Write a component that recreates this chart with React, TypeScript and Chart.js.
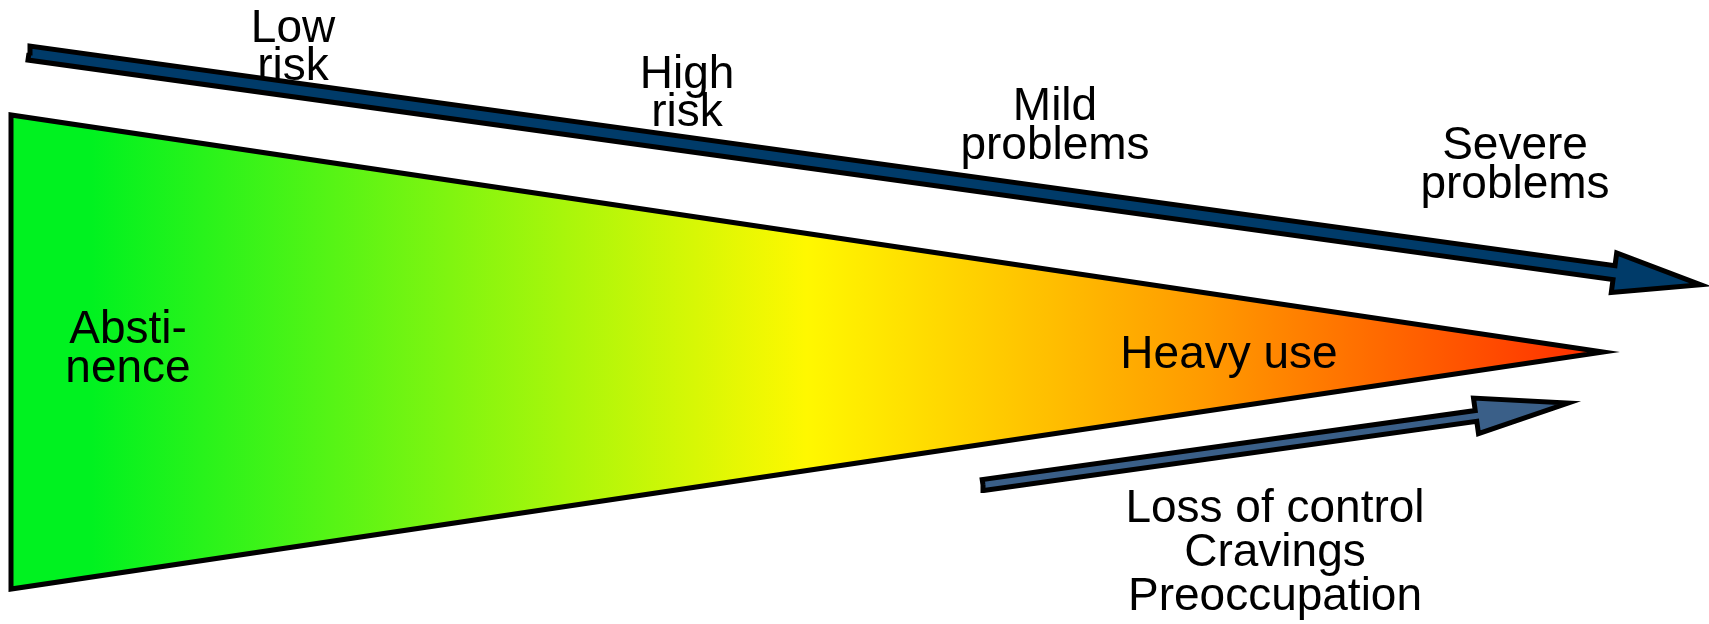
import React, { useEffect, useRef } from "react";
import { Chart, registerables } from "chart.js";

Chart.register(...registerables);

// Diagram coordinate space (x right, y down), same units as the picture
const spaceX = [0, 1709];
const spaceY = [0, 624];

// Use spectrum wedge (closed polygon, starting mid left edge)
const wedgeX = [11, 11, 1603, 11, 11];
const wedgeY = [352, 115, 352, 589, 352];

// Risk arrow (top)
const riskArrowX = [29, 30, 1615, 1616.7, 1701, 1611.3, 1613, 28, 29];
const riskArrowY = [53, 46, 265.8, 252.9, 284.8, 292.5, 279.6, 60, 53];

// Symptoms arrow (bottom)
const symptomArrowX = [983, 982.2, 1475.2, 1473.5, 1568, 1478.5, 1476.8, 983.8, 983];
const symptomArrowY = [485, 479.6, 410.5, 398.1, 403, 433.7, 421.3, 490.4, 485];

// Labels
const labelText = [
  "Low", "risk",
  "High", "risk",
  "Mild", "problems",
  "Severe", "problems",
  "Absti-", "nence",
  "Heavy use",
  "Loss of control", "Cravings", "Preoccupation",
];
const labelX = [293, 293, 687, 687, 1055, 1055, 1515, 1515, 128, 128, 1229, 1275, 1275, 1275];
const labelY = [42, 80, 88, 126, 120, 159, 159, 198, 343, 382, 368, 522, 566, 610];

const toPoints = (xs: number[], ys: number[]) => xs.map((x, i) => ({ x, y: ys[i] }));

const labelPlugin = {
  id: "diagramLabels",
  afterDatasetsDraw(chart: any) {
    const { ctx, scales } = chart;
    ctx.save();
    ctx.font = '46px "Liberation Sans", Arial, sans-serif';
    ctx.fillStyle = "#000000";
    ctx.textAlign = "center";
    ctx.textBaseline = "alphabetic";
    labelText.forEach((t, i) => {
      ctx.fillText(t, scales.x.getPixelForValue(labelX[i]), scales.y.getPixelForValue(labelY[i]));
    });
    ctx.restore();
  },
};

export default function App() {
  const ref = useRef<HTMLCanvasElement | null>(null);
  useEffect(() => {
    if (!ref.current) return;
    const wedgeFill = (c: any) => {
      const chart = c.chart;
      if (!chart.chartArea) return "#ffff00";
      const x0 = chart.scales.x.getPixelForValue(wedgeX[0]);
      const x1 = chart.scales.x.getPixelForValue(wedgeX[2]);
      const g = chart.ctx.createLinearGradient(x0, 0, x1, 0);
      g.addColorStop(0, "#00f220");
      g.addColorStop(0.05, "#00f220");
      g.addColorStop(0.5, "#fff800");
      g.addColorStop(0.75, "#ff9a00");
      g.addColorStop(1, "#ff2c00");
      return g;
    };
    const common = {
      showLine: true,
      fill: "shape",
      pointRadius: 0,
      pointHoverRadius: 0,
      tension: 0,
      borderColor: "#000000",
      borderJoinStyle: "miter",
      clip: false,
    };
    const chart = new Chart(ref.current, {
      type: "scatter",
      data: {
        datasets: [
          { ...common, label: "wedge", data: toPoints(wedgeX, wedgeY), backgroundColor: wedgeFill, borderWidth: 5 },
          { ...common, label: "risk", data: toPoints(riskArrowX, riskArrowY), backgroundColor: "#003b69", borderWidth: 5 },
          { ...common, label: "symptoms", data: toPoints(symptomArrowX, symptomArrowY), backgroundColor: "#3a5f88", borderWidth: 5 },
        ] as any,
      },
      options: {
        animation: false,
        responsive: true,
        maintainAspectRatio: false,
        events: [],
        layout: { padding: 0 },
        plugins: { legend: { display: false }, tooltip: { enabled: false }, title: { display: false } },
        scales: {
          x: { type: "linear", display: false, min: spaceX[0], max: spaceX[1] },
          y: { type: "linear", display: false, min: spaceY[0], max: spaceY[1], reverse: true },
        },
      },
      plugins: [labelPlugin],
    });
    return () => chart.destroy();
  }, []);
  return (
    <div style={{ position: "fixed", left: 0, top: 0, width: 1709, height: 624, background: "#ffffff" }}>
      <canvas ref={ref} />
    </div>
  );
}
